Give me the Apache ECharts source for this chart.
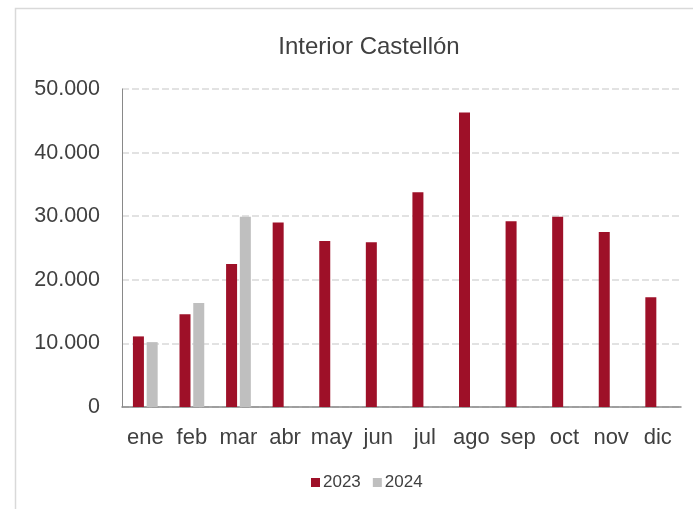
<!DOCTYPE html>
<html>
<head>
<meta charset="utf-8">
<title>Interior Castellón</title>
<script src="https://cdn.jsdelivr.net/npm/echarts@6/dist/echarts.min.js"></script>
<style>
  html, body { margin: 0; padding: 0; background: #fff; }
  #main { width: 693px; height: 509px; }
</style>
</head>
<body>
<div id="main"></div>
<script>
// 数据
var meses = ['ene', 'feb', 'mar', 'abr', 'may', 'jun', 'jul', 'ago', 'sep', 'oct', 'nov', 'dic'];
var datos2023 = [11100, 14600, 22500, 29000, 26100, 25900, 33750, 46300, 29200, 29900, 27500, 17250];
var datos2024 = [10200, 16350, 29900, null, null, null, null, null, null, null, null, null];
var ticksY = [0, 10000, 20000, 30000, 40000, 50000];

var chart = echarts.init(document.getElementById('main'));

// 50000 -> "50.000"
function miles(v) {
  return String(v).replace(/\B(?=(\d{3})+(?!\d))/g, '.');
}

var option = {
  animation: false,
  textStyle: { fontFamily: 'Liberation Sans, Arial, sans-serif' },
  // 外框
  graphic: [{
    type: 'rect',
    shape: { x: 15.5, y: 8.5, width: 800, height: 600 },
    style: { fill: 'none', stroke: '#d9d9d9', lineWidth: 1.5 },
    silent: true
  }],
  title: {
    text: 'Interior Castellón',
    left: 364,
    top: 30,
    textAlign: 'center',
    textStyle: { fontSize: 24, fontWeight: 'normal', color: '#404040' }
  },
  legend: {
    data: ['2023', '2024'],
    left: 311,
    top: 474,
    padding: 0,
    icon: 'rect',
    itemWidth: 9,
    itemHeight: 9,
    itemGap: 12,
    textStyle: { fontSize: 17, color: '#404040', padding: [0, 0, 0, -2] }
  },
  grid: { left: 122, right: 12, top: 89, bottom: 102 },
  xAxis: {
    type: 'category',
    data: meses,
    axisLine: { lineStyle: { color: '#898989', width: 1.5 } },
    axisTick: { show: false },
    axisLabel: { fontSize: 22, color: '#404040', margin: 20, interval: 0, hideOverlap: false }
  },
  yAxis: {
    type: 'value',
    min: ticksY[0],
    max: ticksY[ticksY.length - 1],
    interval: 10000,
    axisLine: { show: true, lineStyle: { color: '#898989', width: 1 } },
    axisTick: { show: false },
    axisLabel: { fontSize: 21.5, color: '#404040', margin: 22, formatter: miles },
    splitLine: { lineStyle: { color: '#d9d9d9', width: 1.5, type: [7, 3] } }
  },
  series: [{
    name: '2023',
    type: 'bar',
    data: datos2023,
    barWidth: 11,
    barGap: '25%',
    itemStyle: { color: '#9e1028' }
  }, {
    name: '2024',
    type: 'bar',
    data: datos2024,
    barWidth: 11,
    itemStyle: { color: '#bfbfbf' }
  }]
};

chart.setOption(option);
</script>
</body>
</html>
